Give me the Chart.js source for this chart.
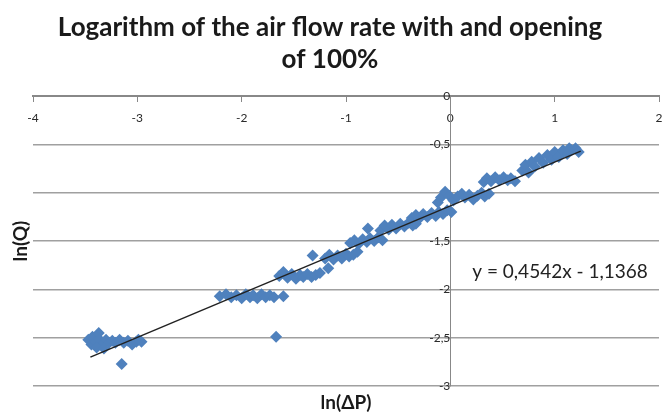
<!DOCTYPE html>
<html>
<head>
<meta charset="utf-8">
<script src="https://cdn.jsdelivr.net/npm/chart.js@4.4.1/dist/chart.umd.min.js"></script>
<style>
  body { margin: 0; background: #fff; }
</style>
</head>
<body>
<canvas id="chart" width="665" height="414"></canvas>
<script>
// ln(dP) / ln(Q), cluster by cluster
let lnDP = [
    -3.47, -3.44, -3.43, -3.40, -3.37, -3.36, -3.33, -3.30, -3.27, -3.24, -3.21, -3.17, -3.13, -3.09, -3.05, -3.01, -2.99, -2.96, -3.39, -3.32, -3.15,
    -2.21, -2.15, -2.10, -2.05, -2.00, -1.96, -1.92, -1.89, -1.85, -1.81, -1.77, -1.73, -1.69, -1.60, -1.67,
    -1.64, -1.60, -1.56, -1.52, -1.48, -1.44, -1.41, -1.37, -1.33, -1.29, -1.25, -1.32, -1.17,
    -1.20, -1.16, -1.12, -1.08, -1.04, -1.00, -0.97, -0.93, -0.89,
    -0.96, -0.92, -0.88, -0.84, -0.80, -0.77, -0.73, -0.69, -0.65, -0.79,
    -0.67, -0.63, -0.59, -0.56, -0.52, -0.48, -0.44, -0.40, -0.36, -0.33,
    -0.37, -0.33, -0.30, -0.26, -0.22, -0.18, -0.14, -0.11, -0.07, -0.03, 0.01,
    -0.12, -0.09, -0.05, -0.01, 0.03, 0.07, 0.11, 0.14, 0.18, 0.22, 0.26, 0.30, 0.33, 0.37,
    0.32, 0.35, 0.39, 0.43, 0.47, 0.51, 0.55, 0.58, 0.62,
    0.69, 0.72, 0.75, 0.78, 0.81, 0.85, 0.89, 0.93, 0.97, 1.00, 1.04, 1.08, 1.12, 1.16, 1.20, 1.23, 1.14
];
let lnQ = [
    -2.52, -2.57, -2.49, -2.54, -2.45, -2.52, -2.57, -2.52, -2.55, -2.53, -2.55, -2.52, -2.55, -2.53, -2.57, -2.54, -2.52, -2.54, -2.60, -2.61, -2.77,
    -2.07, -2.05, -2.08, -2.06, -2.09, -2.05, -2.08, -2.06, -2.09, -2.05, -2.08, -2.06, -2.08, -2.07, -2.49,
    -1.86, -1.82, -1.88, -1.84, -1.89, -1.85, -1.87, -1.84, -1.87, -1.85, -1.83, -1.65, -1.78,
    -1.68, -1.64, -1.69, -1.65, -1.68, -1.63, -1.66, -1.64, -1.61,
    -1.52, -1.49, -1.53, -1.48, -1.51, -1.47, -1.50, -1.46, -1.49, -1.37,
    -1.39, -1.34, -1.38, -1.33, -1.37, -1.32, -1.35, -1.31, -1.34, -1.32,
    -1.26, -1.23, -1.27, -1.22, -1.25, -1.21, -1.24, -1.20, -1.22, -1.18, -1.20,
    -1.10, -1.05, -0.99, -1.03, -1.08, -1.04, -1.01, -1.05, -1.02, -1.07, -1.03, -1.00, -1.04, -1.01,
    -0.89, -0.85, -0.88, -0.84, -0.87, -0.84, -0.87, -0.85, -0.88,
    -0.77, -0.71, -0.79, -0.68, -0.73, -0.64, -0.69, -0.61, -0.66, -0.58, -0.63, -0.56, -0.60, -0.56, -0.54, -0.58, -0.54
];
// trend line end points
let trendX = [-3.45, 1.25];
let trendY = [-2.70, -0.57];
let equationText = 'y = 0,4542x - 1,1368';

let points = [];
for (let i = 0; i < lnDP.length; i++) {
    points.push({x: lnDP[i], y: lnQ[i]});
}
let trend = [];
for (let i = 0; i < trendX.length; i++) {
    trend.push({x: trendX[i], y: trendY[i]});
}

Chart.defaults.font.family = 'Lato';

// equation text next to the trend line
const eqLabel = {
    id: 'eqLabel',
    afterDatasetsDraw(chart) {
	const ctx = chart.ctx;
	const x = chart.scales.x.getPixelForValue(0.21);
	const y = chart.scales.y.getPixelForValue(-1.82);
	ctx.save();
	ctx.font = '19px Lato';
	ctx.fillStyle = '#222';
	ctx.textBaseline = 'middle';
	ctx.fillText(equationText, x, y);
	ctx.restore();
    }
};

var ctx = document.getElementById('chart').getContext('2d');
var chart = new Chart(ctx, {
    type: 'scatter',
    data: {
	datasets: [{
	    type: 'line',
	    data: trend,
	    borderColor: '#222',
	    borderWidth: 1.5,
	    pointRadius: 0,
	    fill: false
	}, {
	    data: points,
	    pointStyle: 'rectRot',
	    pointRadius: 6,
	    backgroundColor: '#4F81BD',
	    borderColor: '#4F81BD',
	    borderWidth: 0
	}]
    },
    options: {
	responsive: false,
	animation: false,
	layout: { padding: { right: 5 } },
	plugins: {
	    legend: { display: false },
	    tooltip: { enabled: false },
	    title: {
		display: true,
		text: ['Logarithm of the air flow rate with and opening', 'of 100%'],
		color: '#1a1a1a',
		font: { size: 26, weight: 'bold', lineHeight: 32 / 26 },
		padding: { top: 12, bottom: 20 }
	    }
	},
	scales: {
	    x: {
		type: 'linear',
		position: { y: 0 },
		min: -4,
		max: 2,
		ticks: { stepSize: 1, color: '#2a2a2a', font: { size: 12 }, padding: 0 },
		// long tick so labels sit low, dashed so only 5px shows
		grid: { drawOnChartArea: false, tickLength: 15, tickBorderDash: [5, 30], color: '#888' },
		border: { color: '#888', width: 2 }
	    },
	    y: {
		type: 'linear',
		position: { x: 0 },
		min: -3,
		max: 0,
		ticks: {
		    stepSize: 0.5, color: '#2a2a2a', font: { size: 12 }, padding: 10,
		    callback: v => String(v).replace('.', ',')
		},
		grid: { color: '#a0a0a0', lineWidth: 1.5, tickLength: 5 },
		border: { color: '#888', width: 1 }
	    },
	    // empty axes that only carry the axis titles
	    xTitle: {
		axis: 'x',
		type: 'linear',
		position: 'bottom',
		min: 0, max: 1,
		ticks: { display: false },
		grid: { display: false, drawTicks: false, tickLength: 0 },
		border: { display: false },
		title: {
		    display: true, text: 'ln(ΔP)', color: '#1a1a1a',
		    font: { size: 19, weight: 'bold' },
		    padding: { top: 5, bottom: 0 }
		}
	    },
	    yTitle: {
		axis: 'y',
		type: 'linear',
		position: 'left',
		min: 0, max: 1,
		ticks: { display: false },
		grid: { display: false, drawTicks: false, tickLength: 0 },
		border: { display: false },
		title: {
		    display: true, text: 'ln(Q)', color: '#1a1a1a',
		    font: { size: 19, weight: 'bold' },
		    padding: { top: 9.5, bottom: 0.7 }
		}
	    }
	}
    },
    plugins: [eqLabel]
});
</script>
</body>
</html>
